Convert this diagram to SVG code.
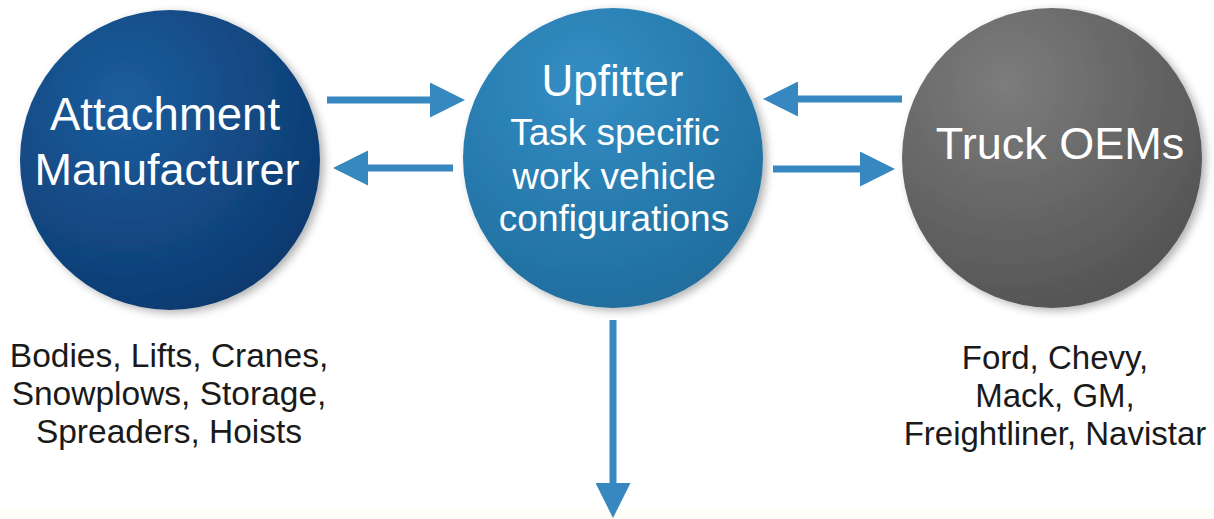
<svg xmlns="http://www.w3.org/2000/svg" width="1214" height="519" viewBox="0 0 1214 519">
  <defs>
    <radialGradient id="gLeft" cx="0.35" cy="0.3" r="0.8">
      <stop offset="0" stop-color="#1c5e9e"/>
      <stop offset="1" stop-color="#0b376c"/>
    </radialGradient>
    <radialGradient id="gMid" cx="0.4" cy="0.25" r="0.85">
      <stop offset="0" stop-color="#338ec4"/>
      <stop offset="1" stop-color="#1e6a9a"/>
    </radialGradient>
    <radialGradient id="gRight" cx="0.35" cy="0.25" r="0.85">
      <stop offset="0" stop-color="#7c7c7c"/>
      <stop offset="1" stop-color="#515151"/>
    </radialGradient>
    <filter id="shadow" x="-20%" y="-20%" width="140%" height="140%">
      <feDropShadow dx="4" dy="3" stdDeviation="4" flood-color="#000" flood-opacity="0.3"/>
    </filter>
    <marker id="ah" viewBox="0 0 35 35" refX="2" refY="17.5" markerWidth="35" markerHeight="35" markerUnits="userSpaceOnUse" orient="auto">
      <path d="M0,0 L35,17.5 L0,35 Z" fill="#3787c0"/>
    </marker>
    <style>
      .node text { font-family: "Liberation Sans", Arial, sans-serif; fill: #ffffff; text-anchor: middle; }
      .lbl { font-family: "Liberation Sans", Arial, sans-serif; fill: #1a1a1a; text-anchor: middle; font-size: 33.5px; }
      .conn line { stroke: #3787c0; stroke-width: 7; marker-end: url(#ah); }
    </style>
  </defs>
  <rect width="1214" height="519" fill="#ffffff"/>
  <rect x="0" y="509" width="1214" height="10" fill="#fefef7"/>

  <g id="attachment-manufacturer" class="node">
    <circle cx="170" cy="160" r="150" fill="url(#gLeft)" filter="url(#shadow)"/>
    <text x="165" y="130" font-size="45.5">Attachment</text>
    <text x="167" y="185" font-size="45">Manufacturer</text>
  </g>

  <g id="upfitter" class="node">
    <circle cx="613" cy="158" r="150" fill="url(#gMid)" filter="url(#shadow)"/>
    <text x="612.5" y="96" font-size="44">Upfitter</text>
    <text x="615" y="145" font-size="37">Task specific</text>
    <text x="614" y="189" font-size="37">work vehicle</text>
    <text x="614" y="231" font-size="37">configurations</text>
  </g>

  <g id="truck-oems" class="node">
    <circle cx="1052" cy="158" r="150" fill="url(#gRight)" filter="url(#shadow)"/>
    <text x="1060" y="159" font-size="45">Truck OEMs</text>
  </g>

  <g id="attachment-examples">
    <text class="lbl" x="169" y="367">Bodies, Lifts, Cranes,</text>
    <text class="lbl" x="169" y="405">Snowplows, Storage,</text>
    <text class="lbl" x="169" y="443">Spreaders, Hoists</text>
  </g>

  <g id="oem-examples">
    <text class="lbl" x="1055" y="369" style="font-size:33px">Ford, Chevy,</text>
    <text class="lbl" x="1055" y="407" style="font-size:33px">Mack, GM,</text>
    <text class="lbl" x="1055" y="445" style="font-size:33px">Freightliner, Navistar</text>
  </g>

  <g id="connectors" class="conn">
    <line x1="327" y1="100" x2="432" y2="100"/>
    <line x1="453" y1="168" x2="366" y2="168"/>
    <line x1="902" y1="99" x2="796" y2="99"/>
    <line x1="773" y1="169" x2="862" y2="169"/>
    <line x1="613" y1="320" x2="613" y2="485"/>
  </g>
</svg>
